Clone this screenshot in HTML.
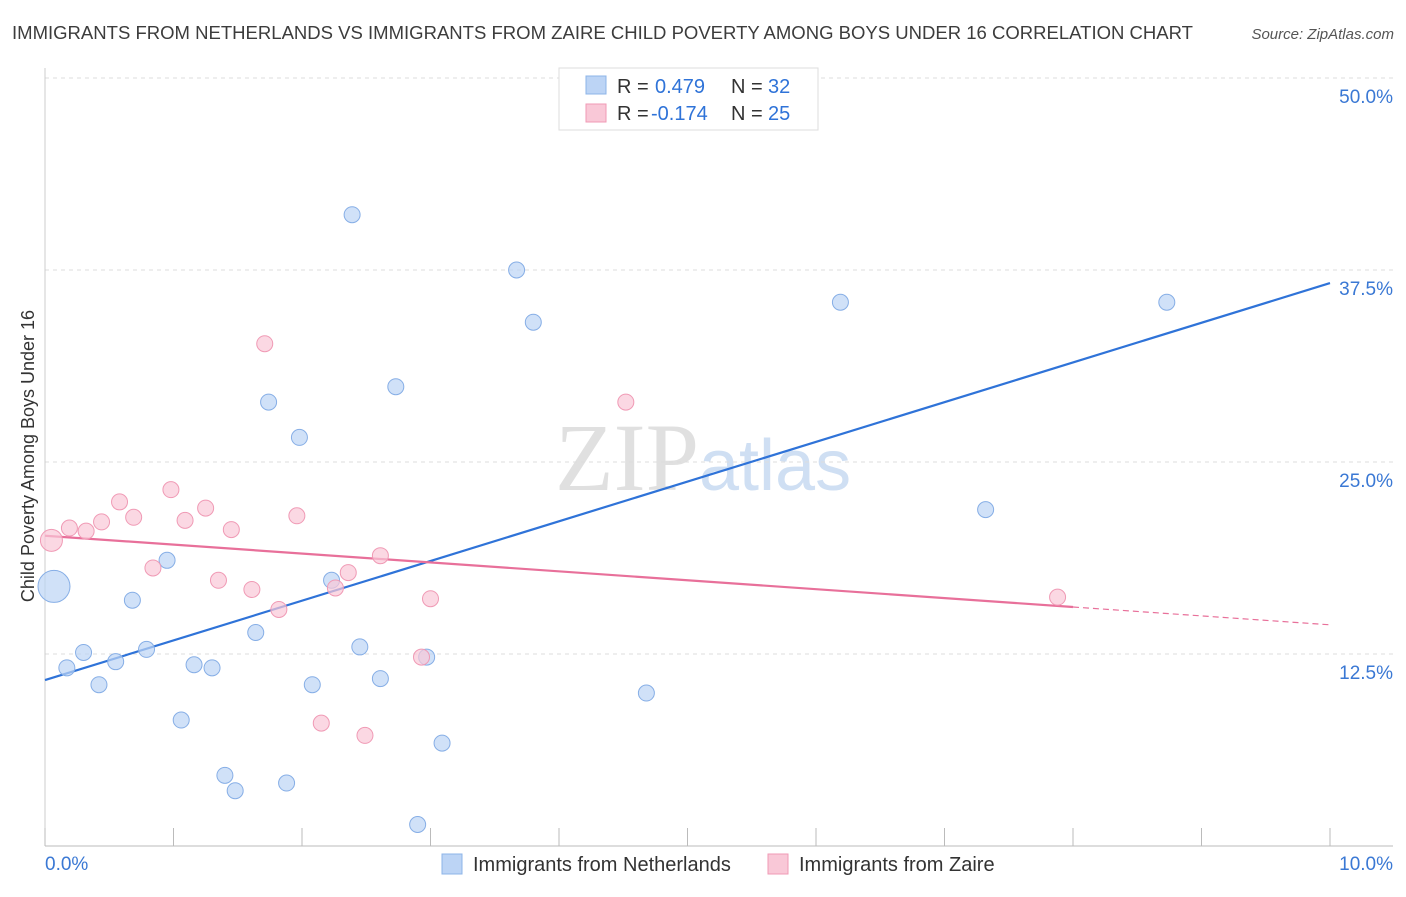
<!DOCTYPE html>
<html><head><meta charset="utf-8"><style>
body{margin:0;background:#fff;font-family:"Liberation Sans",sans-serif;}
</style></head><body>
<svg id="chart" width="1406" height="892" xmlns="http://www.w3.org/2000/svg" style="font-family:'Liberation Sans',sans-serif">
<text x="12" y="39" font-size="18" fill="#3c3c3c" textLength="1181" lengthAdjust="spacingAndGlyphs">IMMIGRANTS FROM NETHERLANDS VS IMMIGRANTS FROM ZAIRE CHILD POVERTY AMONG BOYS UNDER 16 CORRELATION CHART</text>
<text x="1394" y="39" font-size="15" fill="#555" text-anchor="end" font-style="italic">Source: ZipAtlas.com</text>
<text x="555" y="490" font-size="96" fill="#e0e0e0" font-family="Liberation Serif,serif">ZIP<tspan fill="#cfdff3" font-family="Liberation Sans,sans-serif" font-size="72">atlas</tspan></text>
<text transform="translate(34,456) rotate(-90)" font-size="18" fill="#333" text-anchor="middle">Child Poverty Among Boys Under 16</text>
<g id="grid"></g><g id="ticks"></g><g id="lines"></g><g id="pts"></g>
<g>
<rect x="559" y="68" width="259" height="62" fill="#fff" stroke="#ddd"/>
<rect x="586" y="76" width="20" height="18" fill="#bcd4f5" stroke="#8db4e8"/>
<rect x="586" y="104" width="20" height="18" fill="#f9c8d7" stroke="#f09ab5"/>
<text x="617" y="93" font-size="20" fill="#333">R = <tspan x="655" fill="#2f73d8">0.479</tspan><tspan x="731">N = </tspan><tspan x="768" fill="#2f73d8">32</tspan></text>
<text x="617" y="120" font-size="20" fill="#333">R = <tspan x="651" fill="#2f73d8">-0.174</tspan><tspan x="731">N = </tspan><tspan x="768" fill="#2f73d8">25</tspan></text>
</g>
<g>
<rect x="442" y="854" width="20" height="20" fill="#bcd4f5" stroke="#8db4e8"/>
<text x="473" y="871" font-size="20" fill="#333">Immigrants from Netherlands</text>
<rect x="768" y="854" width="20" height="20" fill="#f9c8d7" stroke="#f09ab5"/>
<text x="799" y="871" font-size="20" fill="#333">Immigrants from Zaire</text>
</g>
</svg>
<script>
const blueX=[2.39,3.67,3.80,6.19,8.73,2.73,1.74,1.98,7.32,0.95,0.68,2.23,0.07,0.30,0.79,0.55,0.17,1.16,1.30,1.64,2.45,2.97,0.42,2.08,2.61,4.68,1.06,3.09,1.40,1.88,1.48,2.90];
const blueY=[41.1,37.5,34.1,35.4,35.4,29.9,28.9,26.6,21.9,18.6,16.0,17.3,16.9,12.6,12.8,12.0,11.6,11.8,11.6,13.9,12.96,12.3,10.5,10.5,10.9,9.96,8.2,6.7,4.6,4.1,3.6,1.4];
const pinkX=[1.71,4.52,0.98,0.58,1.25,0.69,0.44,1.09,1.96,0.19,0.32,1.45,0.05,2.61,0.84,2.36,1.35,1.61,2.26,1.82,3.0,7.88,2.93,2.15,2.49];
const pinkY=[32.7,28.9,23.2,22.4,22.0,21.4,21.1,21.2,21.5,20.7,20.5,20.6,19.9,18.9,18.1,17.8,17.3,16.7,16.8,15.4,16.1,16.2,12.3,8.0,7.2];
const yTicks=[12.5,25,37.5,50];
const yTickLabels=["12.5%","25.0%","37.5%","50.0%"];
const blueTrend=[10.8,36.65];
const pinkTrend=[20.2,14.4];
const NS="http://www.w3.org/2000/svg";
const sx=v=>45+v*128.5, sy=v=>846-v*15.36;
function mk(tag,attrs,parent){const e=document.createElementNS(NS,tag);for(const k in attrs)e.setAttribute(k,attrs[k]);document.getElementById(parent).appendChild(e);return e;}
yTicks.forEach((t,i)=>{
 const g=mk('line',{x1:45,x2:1393,y1:sy(t),y2:sy(t),stroke:'#ddd','stroke-dasharray':'4,4'},'grid');
 
 
 const l=mk('text',{x:1393,y:sy(t)+25,'font-size':19,fill:'#3a78d4','text-anchor':'end'},'ticks');l.textContent=yTickLabels[i];
 
 
});
const ax=mk('line',{x1:45,x2:1393,y1:846,y2:846,stroke:'#bbb'},'ticks');


const ay=mk('line',{x1:45,x2:45,y1:68,y2:846,stroke:'#ccc'},'ticks');


for(let i=0;i<=10;i++){const t=mk('line',{x1:sx(i),x2:sx(i),y1:828,y2:846,stroke:'#bbb'},'ticks');
 
 }
const x0=mk('text',{x:45,y:870,'font-size':19,fill:'#3a78d4'},'ticks');x0.textContent='0.0%';


const x1=mk('text',{x:1393,y:870,'font-size':19,fill:'#3a78d4','text-anchor':'end'},'ticks');x1.textContent='10.0%';


blueX.forEach((v,i)=>{const c=mk('circle',{cx:sx(v),cy:sy(blueY[i]),r:i==12?16:8,fill:'#bcd4f5','fill-opacity':0.7,stroke:'#86aee6'},'pts');
 
 });
pinkX.forEach((v,i)=>{const c=mk('circle',{cx:sx(v),cy:sy(pinkY[i]),r:i==12?11:8,fill:'#f9c8d7','fill-opacity':0.7,stroke:'#f09ab5'},'pts');
 
 });
const bl=mk('line',{x1:sx(0),y1:sy(blueTrend[0]),x2:sx(10),y2:sy(blueTrend[1]),stroke:'#2f73d8','stroke-width':2.2},'lines');


const pm=pinkTrend[0]+(pinkTrend[1]-pinkTrend[0])*0.8;
const pl=mk('line',{x1:sx(0),y1:sy(pinkTrend[0]),x2:sx(8),y2:sy(pm),stroke:'#e8709a','stroke-width':2.2},'lines');


const pd=mk('line',{x1:sx(8),y1:sy(pm),x2:sx(10),y2:sy(pinkTrend[1]),stroke:'#e8709a','stroke-width':1.2,'stroke-dasharray':'6,4'},'lines');


</script>
</body></html>
